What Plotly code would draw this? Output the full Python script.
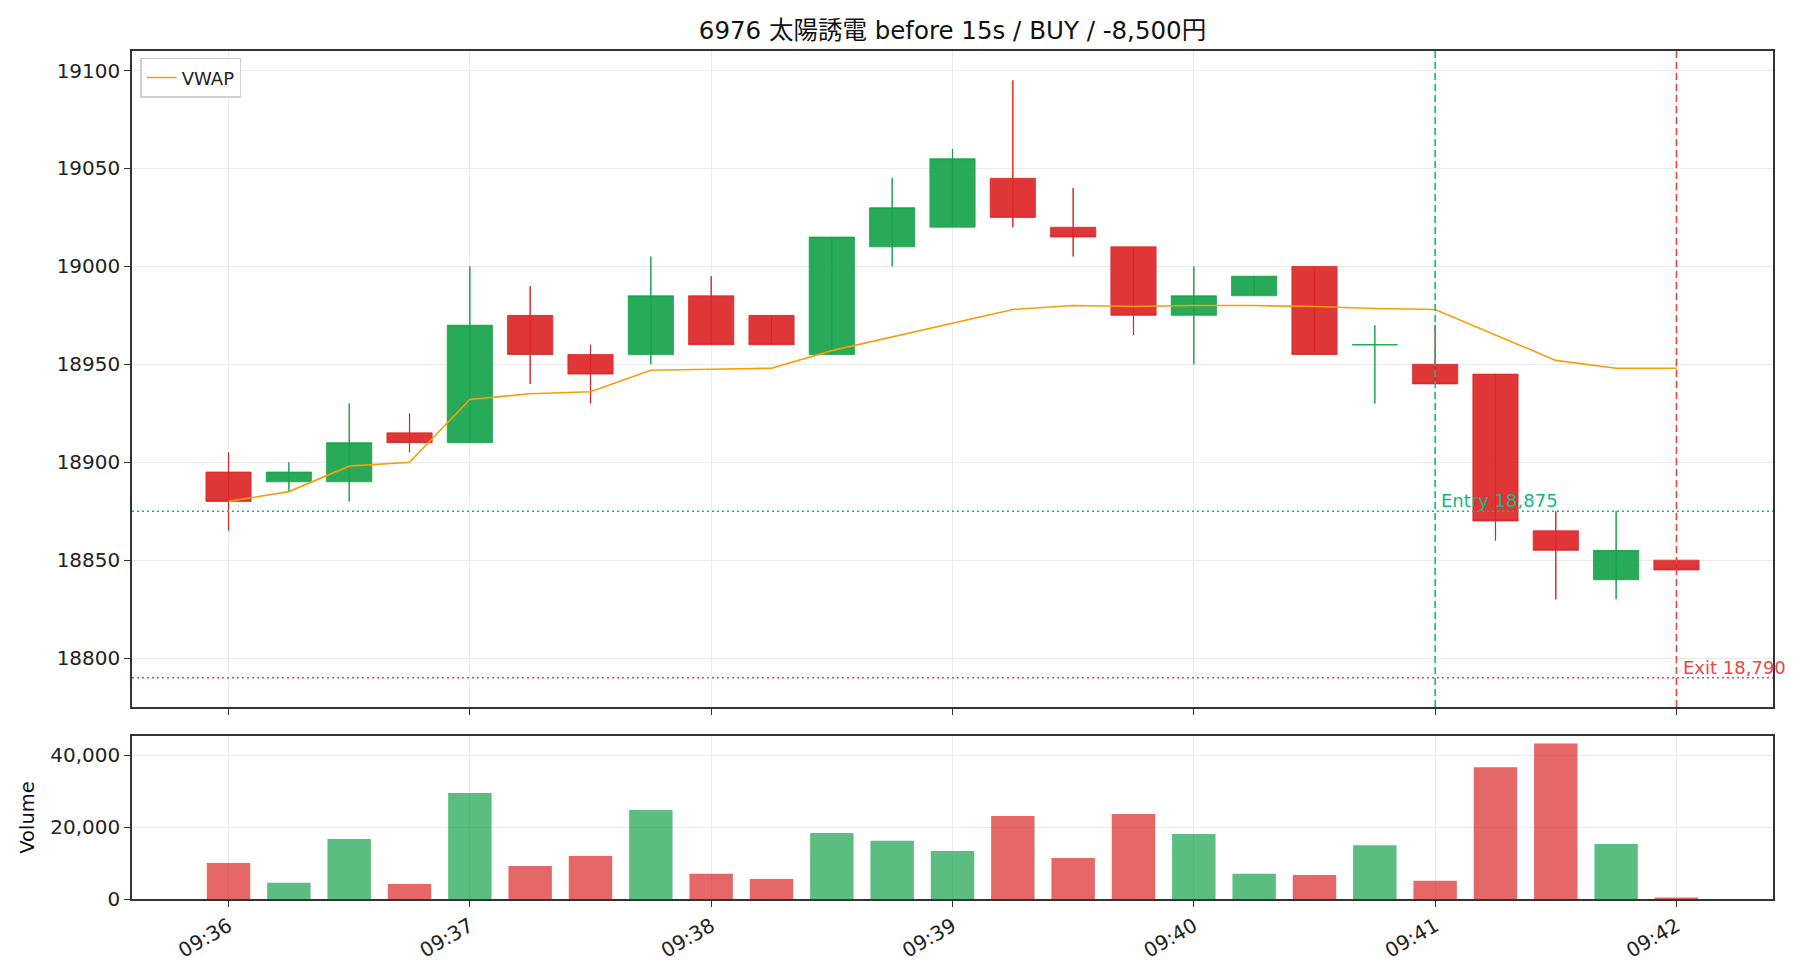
import plotly.graph_objects as go

# ---- data ----
DATE = "2024-01-01 "
times = ["09:36:00", "09:36:15", "09:36:30", "09:36:45", "09:37:00", "09:37:15", "09:37:30",
         "09:37:45", "09:38:00", "09:38:15", "09:38:30", "09:38:45", "09:39:00", "09:39:15",
         "09:39:30", "09:39:45", "09:40:00", "09:40:15", "09:40:30", "09:40:45", "09:41:00",
         "09:41:15", "09:41:30", "09:41:45", "09:42:00"]
open_ = [18895, 18890, 18890, 18915, 18910, 18975, 18955, 18955, 18985, 18975, 18955, 19010, 19020,
         19045, 19020, 19010, 18975, 18985, 19000, 18960, 18950, 18945, 18865, 18840, 18850]
high = [18905, 18900, 18930, 18925, 19000, 18990, 18960, 19005, 18995, 18975, 19015, 19045, 19060,
        19095, 19040, 19010, 19000, 18995, 19000, 18970, 18970, 18945, 18875, 18875, 18850]
low = [18865, 18885, 18880, 18905, 18910, 18940, 18930, 18950, 18960, 18960, 18955, 19000, 19020,
       19020, 19005, 18965, 18950, 18985, 18955, 18930, 18940, 18860, 18830, 18830, 18845]
close = [18880, 18895, 18910, 18910, 18970, 18955, 18945, 18985, 18960, 18960, 19015, 19030, 19055,
         19025, 19015, 18975, 18985, 18995, 18955, 18960, 18940, 18870, 18855, 18855, 18845]
vwap = [18880, 18885, 18898, 18900, 18932, 18935, 18936, 18947, 18947.5, 18948, 18957, 18964, 18971,
        18978, 18980, 18979.5, 18980, 18980, 18979.5, 18978.5, 18978, 18965, 18952, 18948, 18948]
volume = [10000, 4500, 16700, 4200, 29500, 9200, 12000, 24800, 7000, 5600, 18400, 16200, 13400,
          23100, 11400, 23700, 18100, 7000, 6700, 15000, 5100, 36700, 43300, 15300, 400]

title_text = "6976 太陽誘電 before 15s / BUY / -8,500円"
entry_time, entry_price = "09:41:00", 18875
exit_time, exit_price = "09:42:00", 18790
price_ticks = [18800, 18850, 18900, 18950, 19000, 19050, 19100]
volume_ticks = [0, 20000, 40000]

# ---- styles ----
GREEN = "#16a34a"
RED = "#dc2626"
GREEN_BODY = "rgba(22,163,74,0.92)"
RED_BODY = "rgba(220,38,38,0.92)"
GREEN_VOL = "rgba(22,163,74,0.7)"
RED_VOL = "rgba(220,38,38,0.7)"
ENTRY_C = "#10b981"
EXIT_C = "#ef4444"
FONT = "DejaVu Sans, Noto Sans CJK JP"

x = [DATE + t for t in times]
up = [c >= o for o, c in zip(open_, close)]

fig = go.Figure()

fig.add_trace(go.Candlestick(
    x=x, open=open_, high=high, low=low, close=close,
    increasing=dict(fillcolor=GREEN_BODY, line=dict(color="rgba(22,163,74,0.75)", width=1)),
    decreasing=dict(fillcolor=RED_BODY, line=dict(color="rgba(220,38,38,0.75)", width=1)),
    whiskerwidth=0, showlegend=False, xaxis="x", yaxis="y", hoverinfo="skip"))

# wicks drawn over the bodies
for flag, col in ((True, GREEN), (False, RED)):
    wx, wy = [], []
    for xi, lo, hi, u in zip(x, low, high, up):
        if u == flag:
            wx += [xi, xi, None]
            wy += [lo, hi, None]
    fig.add_trace(go.Scatter(x=wx, y=wy, mode="lines", line=dict(color=col, width=1.2),
                             showlegend=False, hoverinfo="skip", xaxis="x", yaxis="y"))

fig.add_trace(go.Scatter(x=x, y=vwap, mode="lines", name="VWAP",
                         line=dict(color="#f59e0b", width=1.6), xaxis="x", yaxis="y"))

fig.add_trace(go.Bar(x=x, y=volume, width=10800,
                     marker=dict(color=[GREEN_VOL if u else RED_VOL for u in up], line=dict(width=0)),
                     showlegend=False, xaxis="x2", yaxis="y2", hoverinfo="skip"))

# entry / exit lines
fig.add_shape(type="line", xref="x", yref="y domain", x0=DATE + entry_time, x1=DATE + entry_time,
              y0=0, y1=1, line=dict(color=ENTRY_C, width=1.6, dash="7px,4px"))
fig.add_shape(type="line", xref="x", yref="y domain", x0=DATE + exit_time, x1=DATE + exit_time,
              y0=0, y1=1, line=dict(color=EXIT_C, width=1.6, dash="7px,4px"))
fig.add_shape(type="line", xref="x domain", yref="y", x0=0, x1=1, y0=entry_price, y1=entry_price,
              line=dict(color=ENTRY_C, width=1.5, dash="2px,3px"))
fig.add_shape(type="line", xref="x domain", yref="y", x0=0, x1=1, y0=exit_price, y1=exit_price,
              line=dict(color=EXIT_C, width=1.5, dash="2px,3px"))

fig.add_annotation(x=DATE + entry_time, y=entry_price, xref="x", yref="y",
                   text=f"Entry {entry_price:,}", showarrow=False, xanchor="left", yanchor="bottom",
                   xshift=4, yshift=-2, font=dict(color=ENTRY_C, size=18, family=FONT))
fig.add_annotation(x=DATE + exit_time, y=exit_price, xref="x", yref="y",
                   text=f"Exit {exit_price:,}", showarrow=False, xanchor="left", yanchor="bottom",
                   xshift=5, yshift=-2, font=dict(color=EXIT_C, size=18, family=FONT))

axis_common = dict(showline=True, mirror=True, linecolor="#333333", linewidth=1.5,
                   ticks="outside", ticklen=6, tickwidth=1.3, tickcolor="#333333",
                   showgrid=True, gridcolor="#ebebeb", gridwidth=1, zeroline=False)

xrange = [DATE + "09:35:36", DATE + "09:42:24"]

fig.update_layout(
    width=1820, height=980,
    margin=dict(l=132, r=47, t=51, b=81),
    paper_bgcolor="white", plot_bgcolor="white",
    font=dict(family=FONT, size=20, color="#222222"),
    boxgap=0.25, boxgroupgap=0,
    title=dict(text=title_text, x=0.5, xref="paper", xanchor="center",
               y=1 - 30 / 980, yref="container", yanchor="middle",
               font=dict(size=24.5, color="#111111", family=FONT)),
    showlegend=True,
    legend=dict(x=0.005, y=0.992, xanchor="left", yanchor="top", xref="paper", yref="paper",
                bgcolor="rgba(255,255,255,0.85)", bordercolor="#d0d0d0", borderwidth=1.5,
                font=dict(size=18, family=FONT, color="#222222")),
    xaxis=dict(domain=[0, 1], anchor="y", type="date", range=xrange, rangeslider=dict(visible=False),
               tickformat="%H:%M", dtick=60000, tick0=DATE + "09:36:00", showticklabels=False,
               **axis_common),
    yaxis=dict(domain=[0.2264, 1], anchor="x", range=[18775, 19110], tickvals=price_ticks,
               tickformat="d", **axis_common),
    xaxis2=dict(domain=[0, 1], anchor="y2", type="date", range=xrange, matches="x",
                tickformat="%H:%M", dtick=60000, tick0=DATE + "09:36:00", tickangle=-30,
                **axis_common),
    yaxis2=dict(domain=[0, 0.1922], anchor="x2", range=[0, 45400], tickvals=volume_ticks,
                tickformat=",d", title=dict(text="Volume", standoff=10,
                                            font=dict(size=19.5, color="#111111")),
                **axis_common),
)

fig.write_html("out.html")
